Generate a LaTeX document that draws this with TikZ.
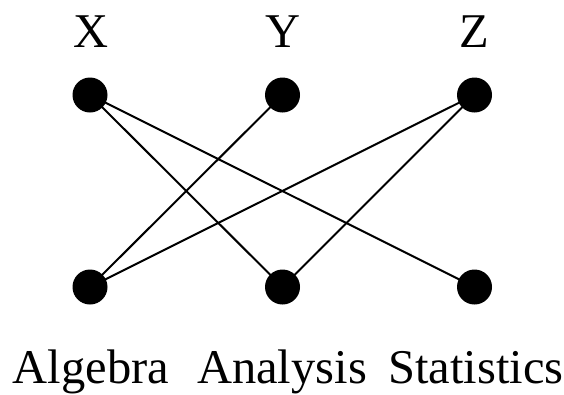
\documentclass[tikz,border=0pt]{standalone}
\usepackage{fontspec}
\setmainfont{Liberation Serif}
\begin{document}
\begin{tikzpicture}[x=1pt,y=-1pt,
  dot/.style={circle,fill=black,inner sep=0pt,minimum size=35pt},
  lbl/.style={font=\fontsize{48.5}{55}\selectfont,inner sep=0pt,anchor=base},
  edge/.style={line width=2pt}]
\useasboundingbox (0,0) rectangle (564,394);
\node[dot] (x) at (90,95) {};
\node[dot] (y) at (282.5,95) {};
\node[dot] (z) at (474.5,95) {};
\node[dot] (a) at (90,287) {};
\node[dot] (b) at (282.5,287) {};
\node[dot] (c) at (474.5,287) {};
\node[lbl] (lx) at (91,47) {X};
\node[lbl] (ly) at (283,47) {Y};
\node[lbl] (lz) at (474,47) {Z};
\node[lbl] (la) at (91,383) {Algebra};
\node[lbl] (lb) at (282,383) {Analysis};
\node[lbl] (lc) at (476,383) {Statistics};
\draw[edge] (x.center) -- (b.center);
\draw[edge] (x.center) -- (c.center);
\draw[edge] (y.center) -- (a.center);
\draw[edge] (z.center) -- (a.center);
\draw[edge] (z.center) -- (b.center);
\end{tikzpicture}
\end{document}
